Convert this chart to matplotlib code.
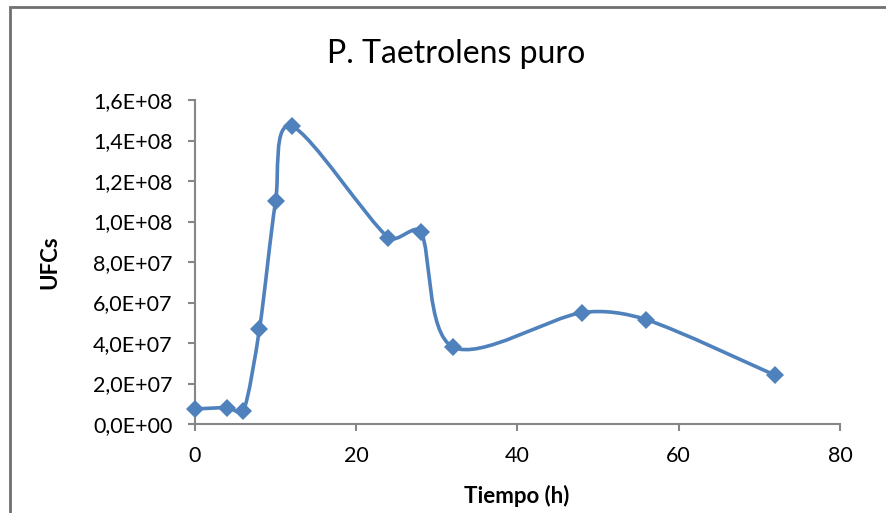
import numpy as np
import matplotlib.pyplot as plt
from matplotlib.path import Path
from matplotlib.patches import PathPatch, Rectangle
from matplotlib.ticker import FuncFormatter, MultipleLocator

plt.rcParams['font.family'] = ['Lato', 'DejaVu Sans']

# data
tiempo = [0, 4, 6, 8, 10, 12, 24, 28, 32, 48, 56, 72]
ufcs = [7.4e6, 8.0e6, 6.3e6, 4.7e7, 1.1e8, 1.47e8, 9.2e7, 9.5e7, 3.8e7, 5.5e7, 5.15e7, 2.4e7]

blue = '#4F81BD'
grey = '#868686'


def smooth_path(ax, x, y):
    # bezier segments, tangent = 1/6 of neighbour chord (screen space),
    # capped at a third of the segment length
    pts = ax.transData.transform(np.column_stack([x, y]).astype(float))
    n = len(pts)
    verts = [pts[0]]
    codes = [Path.MOVETO]

    def cap(v, lim):
        L = np.hypot(*v)
        return v * (lim / L) if L > lim else v

    for i in range(n - 1):
        p0 = pts[i - 1] if i > 0 else pts[i]
        p1 = pts[i]
        p2 = pts[i + 1]
        p3 = pts[i + 2] if i + 2 < n else pts[i + 1]
        d12 = np.hypot(*(p2 - p1))
        c1 = p1 + cap((p2 - p0) / 6, d12 / 3)
        c2 = p2 - cap((p3 - p1) / 6, d12 / 3)
        verts += [c1, c2, p2]
        codes += [Path.CURVE4] * 3
    verts = ax.transData.inverted().transform(np.array(verts))
    return Path(verts, codes)


W, H = 887, 513
fig = plt.figure(figsize=(W / 100, H / 100), dpi=100)
ax = fig.add_axes([195 / W, 89 / H, 645 / W, 324 / H])
ax.set_xlim(0, 80)
ax.set_ylim(0, 1.6e8)

ax.add_patch(PathPatch(smooth_path(ax, tiempo, ufcs), fill=False,
                       edgecolor=blue, linewidth=2.6, zorder=2))
ax.plot(tiempo, ufcs, linestyle='none', marker='D', markersize=9.5,
        color=blue, markeredgewidth=0, zorder=3, clip_on=False)

ax.xaxis.set_major_locator(MultipleLocator(20))
ax.yaxis.set_major_locator(MultipleLocator(2e7))
ax.yaxis.set_major_formatter(FuncFormatter(lambda v, p: f"{v:.1E}".replace('.', ',')))

for s in ['top', 'right']:
    ax.spines[s].set_visible(False)
for s in ['left', 'bottom']:
    ax.spines[s].set_color(grey)
    ax.spines[s].set_linewidth(1.5)
ax.tick_params(direction='out', length=5, width=1.5, color=grey,
               labelsize=15.5, labelcolor='black')
ax.tick_params(axis='y', pad=11)
ax.tick_params(axis='x', pad=11)

fig.text(456 / W, 1 - 63 / H, 'P. Taetrolens puro', fontsize=23,
         ha='center', va='baseline')
fig.text(517 / W, 1 - 503 / H, 'Tiempo (h)', fontsize=16, fontweight='bold',
         ha='center', va='baseline')
fig.text(50 / W, 1 - 262 / H, 'UFCs', fontsize=16, fontweight='bold',
         ha='center', va='center', rotation=90)

# chart frame (cropped on right and bottom)
fig.patches.append(Rectangle((10 / W, -0.1), 1.2, 1.1 - 7 / H,
                             transform=fig.transFigure, fill=False,
                             edgecolor='#707070', linewidth=2))

fig.savefig('out.png', dpi=100)
